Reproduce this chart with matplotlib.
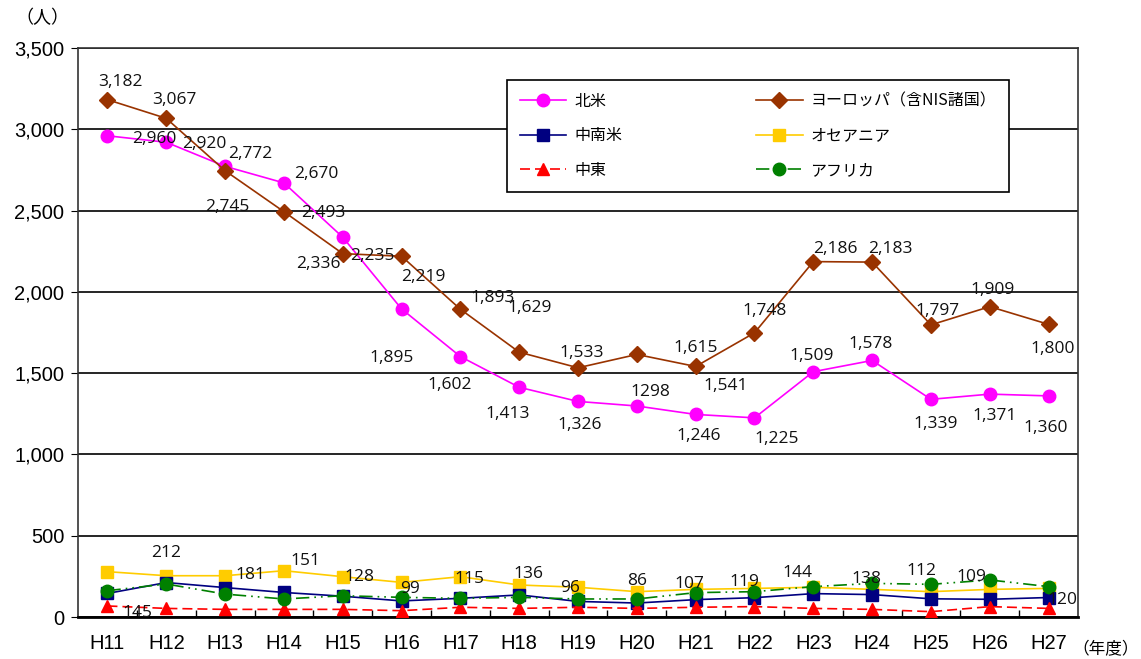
import matplotlib
matplotlib.use('Agg')
import matplotlib.pyplot as plt
from matplotlib.ticker import FuncFormatter, MultipleLocator

plt.rcParams['font.family'] = ['Noto Sans CJK JP', 'DejaVu Sans']

years = ['H11', 'H12', 'H13', 'H14', 'H15', 'H16', 'H17', 'H18', 'H19',
         'H20', 'H21', 'H22', 'H23', 'H24', 'H25', 'H26', 'H27']

# 値（人）
north_america = [2960, 2920, 2772, 2670, 2336, 1895, 1602, 1413, 1326,
                 1298, 1246, 1225, 1509, 1578, 1339, 1371, 1360]
europe = [3182, 3067, 2745, 2493, 2235, 2219, 1893, 1629, 1533,
          1615, 1541, 1748, 2186, 2183, 1797, 1909, 1800]
latin_america = [145, 212, 181, 151, 128, 99, 115, 136, 96,
                 86, 107, 119, 144, 138, 112, 109, 120]
oceania = [279, 254, 254, 285, 248, 213, 248, 197, 183,
           156, 170, 176, 183, 170, 156, 170, 176]
middle_east = [68, 53, 47, 47, 47, 39, 60, 53, 60,
               53, 60, 64, 53, 47, 33, 64, 53]
africa = [162, 203, 141, 111, 131, 121, 115, 121, 111,
          111, 150, 156, 187, 207, 201, 228, 187]

# ラベルの位置（点からのずれ, px, 上が正）
na_off = [(47, -3), (38, -2), (25, 12), (32, 9), (-24, -27), (-10, -49),
          (-11, -28), (-12, -27), (2, -24), (14, 14), (3, -22), (22, -21),
          (-2, 16), (-2, 16), (5, -25), (5, -22), (-3, -32)]
eu_off = [(13, 18), (8, 18), (2, -36), (39, -1), (30, -2), (22, -21),
          (32, 11), (10, 44), (4, 15), (59, 6), (30, -20), (10, 22),
          (22, 13), (18, 13), (7, 14), (3, 17), (4, -25)]
la_off = [(30, -20), (0, 30), (25, 13), (22, 31), (17, 19), (8, 12),
          (9, 19), (9, 21), (-8, 13), (0, 22), (-6, 16), (-10, 16),
          (-16, 21), (-6, 16), (-10, 28), (-18, 22), (14, -2)]

x = list(range(len(years)))

fig = plt.figure(figsize=(11.41, 6.59), dpi=100)
ax = fig.add_axes([0.0684, 0.0637, 0.8764, 0.8635])

ax.plot(x, north_america, '-', color='#FF00FF', lw=1.2, marker='o', ms=9,
        label='北米', zorder=4)
ax.plot(x, latin_america, '-', color='#000080', lw=1.2, marker='s', ms=8,
        label='中南米', zorder=3)
ax.plot(x, middle_east, '--', color='#FF0000', lw=1.2, marker='^', ms=9,
        dashes=(6, 3), label='中東', zorder=3)
ax.plot(x, europe, '-', color='#993300', lw=1.2, marker='D', ms=8,
        label='ヨーロッパ（含NIS諸国）', zorder=4)
ax.plot(x, oceania, '-', color='#FFCC00', lw=1.2, marker='s', ms=9,
        label='オセアニア', zorder=2)
ax.plot(x, africa, color='#008000', lw=1.2, marker='o', ms=9,
        dashes=(8, 3, 1, 3, 1, 3), label='アフリカ', zorder=3)

def fmt(v):
    return '1298' if v == 1298 else f'{v:,}'

for series, offs in ((north_america, na_off), (europe, eu_off), (latin_america, la_off)):
    for xi, v, (dx, dy) in zip(x, series, offs):
        ax.annotate(fmt(v), (xi, v), xytext=(dx, dy), textcoords='offset pixels',
                    ha='center', va='center', fontsize=12.5, family='Open Sans',
                    color='#111111', zorder=6)

ax.set_xlim(-0.5, len(years) - 0.5)
ax.set_ylim(0, 3500)
ax.yaxis.set_major_locator(MultipleLocator(500))
ax.yaxis.set_major_formatter(FuncFormatter(lambda v, p: f'{int(v):,}'))
ax.set_xticks(x)
ax.set_xticklabels(years)
ax.set_xticks([i + 0.5 for i in x[:-1]], minor=True)
ax.tick_params(axis='x', which='major', length=0, pad=12, labelsize=14.5)
ax.tick_params(axis='x', which='minor', direction='in', length=5, width=1)
ax.tick_params(axis='y', length=5, labelsize=14.5, pad=5)
for lab in ax.get_xticklabels() + ax.get_yticklabels():
    lab.set_family('Liberation Sans')

ax.grid(axis='y', color='black', lw=1.2)
ax.set_axisbelow(True)
for s in ('left', 'right', 'top'):
    ax.spines[s].set_color('#333333')
    ax.spines[s].set_linewidth(1.2)
ax.spines['bottom'].set_linewidth(2)

leg = ax.legend(ncol=2, loc='upper left', bbox_to_anchor=(0.4289, 0.9435),
                frameon=True, fancybox=False, edgecolor='black', fontsize=11.5,
                handlelength=2.9, columnspacing=8.4, labelspacing=1.1,
                borderpad=0.8, handletextpad=0.5, borderaxespad=0)
leg.get_frame().set_linewidth(1.2)
leg.get_frame().set_alpha(1)

fig.text(42 / 1141, 1 - 18 / 659, '（人）', ha='center', va='center', fontsize=13)
fig.text(1139 / 1141, 1 - 650 / 659, '（年度）', ha='right', va='center', fontsize=12)

fig.savefig('out.png', dpi=100)
